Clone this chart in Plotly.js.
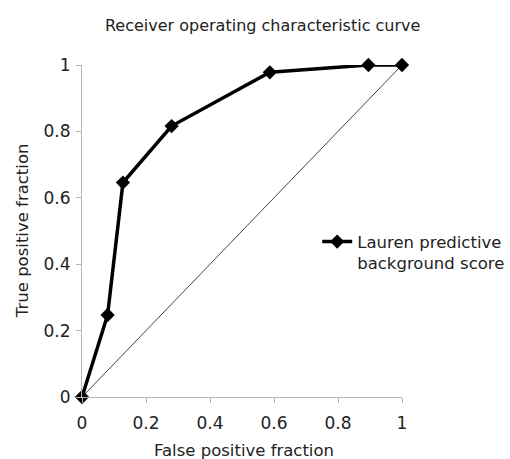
<!DOCTYPE html>
<html>
<head>
<meta charset="utf-8">
<script src="https://cdn.plot.ly/plotly-3.0.1.min.js"></script>
<style>html,body{margin:0;padding:0;background:#fff;}#chart{width:510px;height:459px;}</style>
</head>
<body>
<div id="chart"></div>
<script>
// Data
const fpf = [0, 0.08, 0.128, 0.28, 0.587, 0.895, 1];
const tpf = [0, 0.247, 0.646, 0.816, 0.978, 1, 1];
const seriesName = "Lauren predictive<br>background score";
const refX = [0, 1];
const refY = [0, 1];
const tickVals = [0, 0.2, 0.4, 0.6, 0.8, 1];
const tickText = ["0", "0.2", "0.4", "0.6", "0.8", "1"];

const font = "DejaVu Sans, Verdana, sans-serif";

const traces = [
  {
    x: refX, y: refY, mode: "lines", type: "scatter",
    line: {color: "#4a4040", width: 1}, showlegend: false, hoverinfo: "skip", cliponaxis: false
  },
  {
    x: fpf, y: tpf, mode: "lines+markers", type: "scatter", name: seriesName,
    line: {color: "#000", width: 3.5},
    marker: {symbol: "diamond", size: 11, color: "#000"},
    cliponaxis: false
  }
];

const axisCommon = {
  range: [0, 1], tickvals: tickVals, ticktext: tickText,
  showgrid: false, zeroline: false, showline: true,
  linecolor: "#b5b5b5", linewidth: 1,
  ticks: "outside", ticklen: 5, tickcolor: "#b5b5b5",
  tickfont: {family: font, size: 17, color: "#222"},
  fixedrange: true, automargin: false
};

const layout = {
  width: 510, height: 459,
  margin: {l: 82, r: 108, t: 65, b: 62, autoexpand: false},
  paper_bgcolor: "#fff", plot_bgcolor: "#fff",
  title: {text: "Receiver operating characteristic curve", x: 0.515, xanchor: "center", y: 0.945, yanchor: "middle",
          font: {family: font, size: 16, color: "#222"}},
  xaxis: Object.assign({}, axisCommon, {ticklabelstandoff: 6}),
  yaxis: Object.assign({}, axisCommon, {ticklabelstandoff: 2}),
  annotations: [
    {text: "False positive fraction", xref: "paper", yref: "paper", x: 0.505, y: -0.16,
     xanchor: "center", yanchor: "middle", showarrow: false,
     font: {family: font, size: 16.5, color: "#222"}},
    {text: "True positive fraction", xref: "paper", yref: "paper", x: -0.187, y: 0.5,
     xanchor: "center", yanchor: "middle", showarrow: false, textangle: -90,
     font: {family: font, size: 16.5, color: "#222"}}
  ],
  showlegend: true,
  legend: {x: 0.735, y: 0.52, xanchor: "left", yanchor: "top", valign: "top",
           font: {family: font, size: 16.5, color: "#222"}, bgcolor: "rgba(0,0,0,0)", borderwidth: 0}
};

Plotly.newPlot("chart", traces, layout, {displayModeBar: false, staticPlot: true});
</script>
</body>
</html>
